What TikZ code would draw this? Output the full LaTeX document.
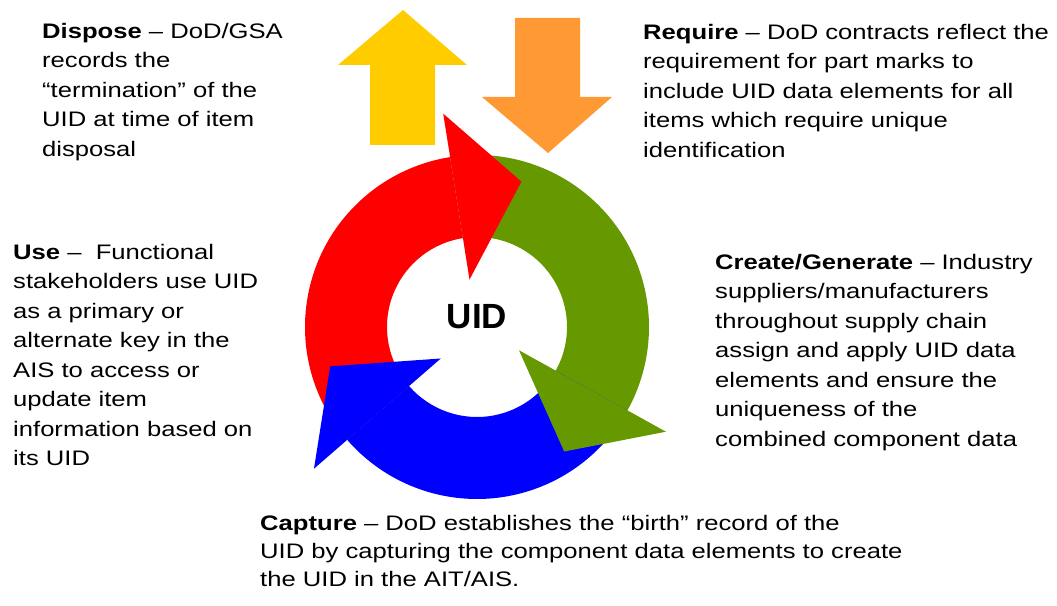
\documentclass[tikz,border=0pt]{standalone}
\usepackage{fontspec}
\setmainfont{Liberation Sans}[FakeStretch=1.22]
\newfontfamily\uidfont{Liberation Sans}
\definecolor{uidred}{RGB}{255,0,0}
\definecolor{uidgreen}{RGB}{102,153,0}
\definecolor{uidblue}{RGB}{0,0,255}
\definecolor{uidyellow}{RGB}{255,204,0}
\definecolor{uidorange}{RGB}{255,153,51}
\tikzset{desc/.style={anchor=north west,align=left,inner sep=0pt,font=\fontsize{21}{29.5}\selectfont}}
\begin{document}
\begin{tikzpicture}[x=1pt,y=1pt]
\useasboundingbox (0,0) rectangle (1057,605);
\fill[uidyellow] (370,460) -- (370,540) -- (338,540) -- (403,595) -- (467,540) -- (435,540) -- (435,460) -- cycle;
\fill[uidorange] (515,587) -- (580,587) -- (580,508) -- (612,508) -- (548,452) -- (482,508) -- (515,508) -- cycle;
\begin{scope}[shift={(477,278)}]
\foreach \col/\from/\to in {uidred/221/99,uidgreen/99/-29,uidblue/-29/-139}
  \fill[\col] (\from:172) arc[start angle=\from,end angle=\to,radius=172] -- (\to:90) arc[start angle=\to,end angle=\from,radius=90] -- cycle;
\foreach \col/\b in {uidred/99,uidgreen/-29,uidblue/-139}
  \fill[\col] (\b:48) -- ({\b-26}:152) -- (\b:216) -- cycle;
\node[font=\uidfont\fontsize{35}{40}\selectfont\bfseries] (uid) at (0,10) {UID};
\end{scope}
\node[desc] (dispose) at (42,582) {\textbf{Dispose} -- DoD/GSA\\records the\\“termination” of the\\UID at time of item\\disposal};
\node[desc] (require) at (643,581) {\textbf{Require} -- DoD contracts reflect the\\requirement for part marks to\\include UID data elements for all\\items which require unique\\identification};
\node[desc] (use) at (13,361) {\textbf{Use} --~ Functional\\stakeholders use UID\\as a primary or\\alternate key in the\\AIS to access or\\update item\\information based on\\its UID};
\node[desc] (create) at (715,351) {\textbf{Create/Generate} -- Industry\\suppliers/manufacturers\\throughout supply chain\\assign and apply UID data\\elements and ensure the\\uniqueness of the\\combined component data};
\node[desc,font=\fontsize{21}{28}\selectfont] (capture) at (260,90) {\textbf{Capture} -- DoD establishes the “birth” record of the\\UID by capturing the component data elements to create\\the UID in the AIT/AIS.};
\end{tikzpicture}
\end{document}
